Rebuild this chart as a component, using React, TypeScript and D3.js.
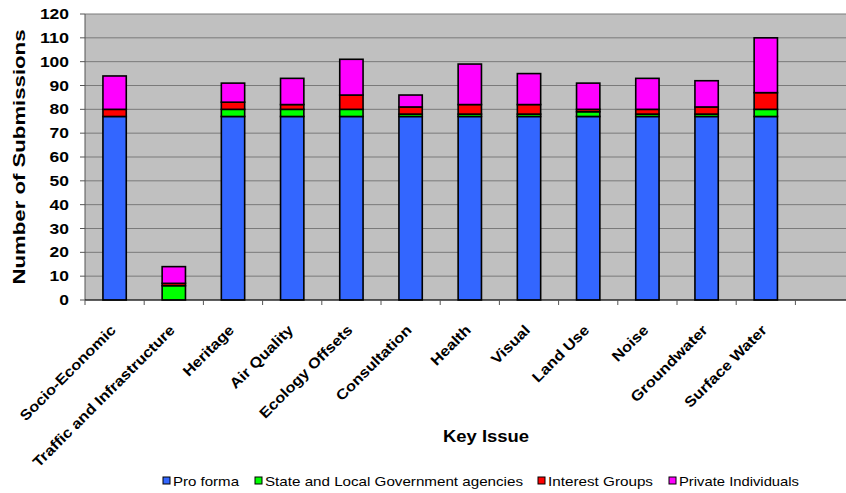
import React from "react";
import * as d3 from "d3";

const categories = [
  "Socio-Economic",
  "Traffic and Infrastructure",
  "Heritage",
  "Air Quality",
  "Ecology Offsets",
  "Consultation",
  "Health",
  "Visual",
  "Land Use",
  "Noise",
  "Groundwater",
  "Surface Water",
  "",
];
const seriesNames = [
  "Pro forma",
  "State and Local Government agencies",
  "Interest Groups",
  "Private Individuals",
];
const proForma = [77, 0, 77, 77, 77, 77, 77, 77, 77, 77, 77, 77, 0];
const stateLocal = [0, 6, 3, 3, 3, 1, 1, 1, 2, 1, 1, 3, 0];
const interestGroups = [3, 1, 3, 2, 6, 3, 4, 4, 1, 2, 3, 7, 0];
const privateIndividuals = [14, 7, 8, 11, 15, 5, 17, 13, 11, 13, 11, 23, 0];
const yTicks = [0, 10, 20, 30, 40, 50, 60, 70, 80, 90, 100, 110, 120];
const colors = ["#3366FF", "#00FF00", "#FF0000", "#FF00FF"];

const W = 846;
const H = 493;
const FONT = "Arial, 'Liberation Sans', sans-serif";

export default function App() {
  const left = 85;
  const right = 854.6;
  const top = 14;
  const bottom = 300;

  const x = d3
    .scaleBand<string>()
    .domain(categories.map((c, i) => String(i)))
    .range([left, right])
    .paddingInner(0.606)
    .paddingOuter(0.303);
  const y = d3.scaleLinear().domain([0, 120]).range([bottom, top]);

  const rows = categories.map((c, i) => ({
    key: String(i),
    s0: proForma[i],
    s1: stateLocal[i],
    s2: interestGroups[i],
    s3: privateIndividuals[i],
  }));
  const stack = d3.stack<any>().keys(["s0", "s1", "s2", "s3"]);
  const layers = stack(rows);

  const step = x.step();
  const boundaries = d3.range(categories.length + 1).map((i) => left + i * step);

  const legendLayout = [
    { x: 163, w: 66 },
    { x: 255, w: 258 },
    { x: 538, w: 105 },
    { x: 669, w: 120 },
  ];

  return (
    <svg
      width={W}
      height={H}
      style={{ position: "absolute", left: 0, top: 0, overflow: "hidden", background: "#fff" }}
      fontFamily={FONT}
    >
      <rect x={left} y={top} width={W - left} height={bottom - top} fill="#C0C0C0" />
      {yTicks.map((t) => (
        <line
          key={"g" + t}
          x1={left}
          x2={W}
          y1={y(t)}
          y2={y(t)}
          stroke="#7a7a7a"
          strokeWidth={1}
        />
      ))}
      {layers.map((layer, li) =>
        layer.map((d, i) => {
          const h = y(d[0]) - y(d[1]);
          if (h <= 0) return null;
          return (
            <rect
              key={li + "-" + i}
              x={x(String(i))}
              y={y(d[1])}
              width={x.bandwidth()}
              height={h}
              fill={colors[li]}
              stroke="#000"
              strokeWidth={1.6}
            />
          );
        })
      )}
      <line x1={left} x2={left} y1={top} y2={bottom} stroke="#555" strokeWidth={1} />
      <line x1={left} x2={W} y1={bottom} y2={bottom} stroke="#000" strokeWidth={1.2} />
      {yTicks.map((t) => (
        <g key={"yt" + t}>
          <line x1={left - 5} x2={left} y1={y(t)} y2={y(t)} stroke="#555" />
          <text
            x={69}
            y={y(t) + 5}
            textAnchor="end"
            fontSize={14}
            fontWeight="bold"
            textLength={String(t).length * 9.7}
            lengthAdjust="spacingAndGlyphs"
          >
            {t}
          </text>
        </g>
      ))}
      {boundaries.map((b, i) => (
        <line key={"xt" + i} x1={b} x2={b} y1={bottom} y2={bottom + 5} stroke="#555" />
      ))}
      {categories.map((c, i) => {
        if (!c) return null;
        const cx = (x(String(i)) as number) + x.bandwidth() / 2;
        return (
          <text
            key={"xl" + i}
            transform={`translate(${cx + 2},${331}) rotate(-45) scale(1.13,1)`}
            textAnchor="end"
            fontSize={14.5}
            fontWeight="bold"
          >
            {c}
          </text>
        );
      })}
      <text
        transform={`translate(25,157) rotate(-90)`}
        textAnchor="middle"
        fontSize={17}
        fontWeight="bold"
        textLength={255}
        lengthAdjust="spacingAndGlyphs"
      >
        Number of Submissions
      </text>
      <text
        x={486}
        y={442}
        textAnchor="middle"
        fontSize={16}
        fontWeight="bold"
        textLength={86}
        lengthAdjust="spacingAndGlyphs"
      >
        Key Issue
      </text>
      {seriesNames.map((s, i) => (
        <g key={"lg" + i}>
          <rect
            x={legendLayout[i].x}
            y={477}
            width={7}
            height={7}
            fill={colors[i]}
            stroke="#000"
            strokeWidth={1}
          />
          <text
            x={legendLayout[i].x + 10}
            y={485.5}
            fontSize={13}
            textLength={legendLayout[i].w}
            lengthAdjust="spacingAndGlyphs"
          >
            {s}
          </text>
        </g>
      ))}
    </svg>
  );
}
